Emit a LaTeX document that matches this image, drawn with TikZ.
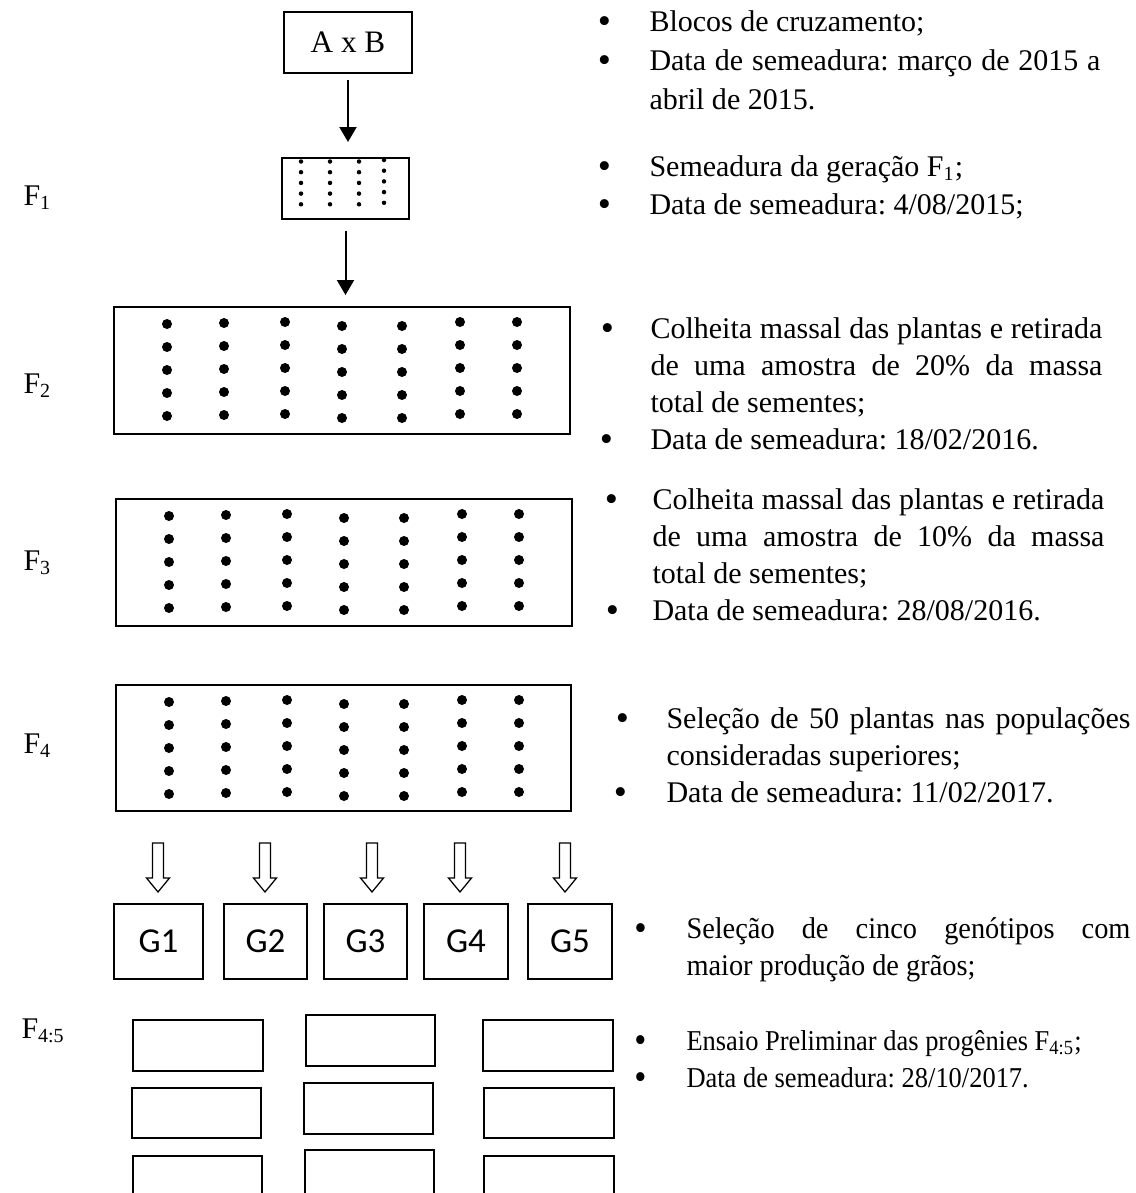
\documentclass[tikz,border=0pt]{standalone}
\usepackage{fontspec}
\setmainfont{Liberation Serif}
\newfontfamily\gfont{Carlito}
\newfontfamily\narrowA[FakeStretch=0.945]{Liberation Serif}
\newfontfamily\narrowB[FakeStretch=0.92]{Liberation Serif}
\usetikzlibrary{arrows.meta}

% bullet hung in the left margin of a paragraph, #1 = gap to the text
\newcommand{\bul}[1]{\leavevmode\llap{\hbox to 0pt{\hss\lower1pt\hbox{\fontsize{15}{15}\selectfont\textbullet}\hss}\hskip #1\relax}}
% paragraph settings for the notes: #1 = size, #2 = line distance
\newcommand{\notefont}[2]{\fontsize{#1}{#2}\selectfont\frenchspacing
  \hyphenpenalty=10000\exhyphenpenalty=10000\tolerance=10000\hbadness=10000}

\begin{document}
\begin{tikzpicture}[x=0.4pt,y=-0.4pt,
  sized/.style 2 args={minimum width=#1*0.4pt, minimum height=#2*0.4pt},
  box/.style={draw, line width=0.8pt, inner sep=0pt},
  gbox/.style={box, font=\gfont\fontsize{14}{16}\selectfont},
  plot/.style={draw, line width=0.8pt, inner sep=0pt},
  arr/.style={line width=0.8pt, -{Triangle[width=6.8pt,length=6pt]}},
  gen/.style={inner sep=0pt, anchor=base west, font=\fontsize{12}{14}\selectfont},
  txt/.style={inner sep=0pt, anchor=base west, align=justify, text width=#1*0.4pt},
  hollowarrow/.pic={\draw[line width=0.5pt, fill=white]
      (-5.5,0) -- (5.5,0) -- (5.5,35) -- (11.5,35) -- (0,49) -- (-11.5,35) -- (-5.5,35) -- cycle;}
]
\useasboundingbox (0,0) rectangle (1135,1193);
\clip (0,0) rectangle (1135,1193);

% ---- crossing and generations ----
\node[box, sized={128}{61}, font=\fontsize{12.5}{15}\selectfont] (ab) at (348,42.5) {A x B};
\node[box, sized={127}{61}] (f1box) at (345.5,188.5) {};
\node[box, sized={456}{127}] (f2box) at (342,370.5) {};
\node[box, sized={456}{127}] (f3box) at (344,562.5) {};
\node[box, sized={455}{126}] (f4box) at (343.5,748) {};

% plants in the F1 plot
\begin{scope}[shift={(f1box.north west)}]
  \foreach \dx/\dy in {20/4.5,49/4.5,78/4.5,103/3}
    \foreach \r in {0,...,4}
      \fill (\dx,{\dy+10.7*\r}) circle[radius=0.9pt];
\end{scope}

% plants in the F2, F3 and F4 plots
\foreach \plotname in {f2box,f3box,f4box}{
  \begin{scope}[shift={(\plotname.north west)}]
    \foreach \dx/\dy in {54/18,111/17,172/16,229/20,289/20,347/16,404/16}
      \foreach \r in {0,...,4}
        \fill (\dx,{\dy+23*\r}) circle[radius=2pt];
  \end{scope}
}

\draw[arr, shorten <=2.4pt, shorten >=6pt] (ab.south) -- (ab.south |- f1box.north);
\draw[arr, shorten <=4.4pt, shorten >=4.4pt] (f1box.south) -- (f1box.south |- f2box.north);

% ---- selected genotypes ----
\foreach \xa in {158,265,372,460,565}
  \pic at (\xa,843) {hollowarrow};

\node[gbox, sized={89}{75}] (g1) at (158.5,941.5) {G1};
\node[gbox, sized={83}{75}] (g2) at (265.5,941.5) {G2};
\node[gbox, sized={83}{75}] (g3) at (365.5,941.5) {G3};
\node[gbox, sized={84}{75}] (g4) at (466,941.5) {G4};
\node[gbox, sized={84}{75}] (g5) at (570,941.5) {G5};

% ---- F4:5 progeny plots ----
\node[plot, sized={130}{51}] (p11) at (198,1045.5) {};
\node[plot, sized={129}{50}] (p12) at (196.5,1113) {};
\node[plot, sized={129}{51}] (p13) at (197.5,1181.5) {};
\node[plot, sized={129}{51}] (p21) at (370.5,1040.5) {};
\node[plot, sized={129}{51}] (p22) at (368.5,1108.5) {};
\node[plot, sized={129}{51}] (p23) at (369.5,1175.5) {};
\node[plot, sized={130}{51}] (p31) at (548,1045.5) {};
\node[plot, sized={130}{50}] (p32) at (549,1113) {};
\node[plot, sized={130}{51}] (p33) at (549,1181.5) {};

% ---- generation labels ----
\node[gen] (lf1) at (23,205) {F\textsubscript{1}};
\node[gen] (lf2) at (23,393) {F\textsubscript{2}};
\node[gen] (lf3) at (23,570) {F\textsubscript{3}};
\node[gen] (lf4) at (23,753) {F\textsubscript{4}};
\node[gen] (lf45) at (21,1038) {F\textsubscript{4:5}};

% ---- notes ----
\node[txt=451, font=\notefont{12}{15.6pt}] (n1) at (649,31)
  {\bul{18pt}Blocos de cruzamento;\par
   \bul{18pt}Data de semeadura: março de 2015 a\linebreak abril de 2015.};
\node[txt=451, font=\notefont{12}{15.2pt}] (n2) at (649,176)
  {\bul{18pt}Semeadura da geração F\textsubscript{1};\par
   \bul{18pt}Data de semeadura: 4/08/2015;};
\node[txt=452, font=\notefont{12}{14.8pt}] (n3) at (650,338)
  {\bul{17.2pt}Colheita massal das plantas e retirada\linebreak de uma amostra de 20\% da massa\linebreak total de sementes;\par
   \bul{17.6pt}Data de semeadura: 18/02/2016.};
\node[txt=452, font=\notefont{12}{14.8pt}] (n4) at (652,509)
  {\bul{16.4pt}Colheita massal das plantas e retirada\linebreak de uma amostra de 10\% da massa\linebreak total de sementes;\par
   \bul{16pt}Data de semeadura: 28/08/2016.};
\node[txt=464, font=\notefont{12}{14.8pt}] (n5) at (666,728)
  {\bul{17.6pt}Seleção de 50 plantas nas populações\linebreak consideradas superiores;\par
   \bul{18.4pt}Data de semeadura: 11/02/2017.};
\node[txt=444, font=\narrowA\notefont{12}{14.8pt}] (n6) at (686,938)
  {\bul{18.4pt}Seleção de cinco genótipos com\linebreak maior produção de grãos;};
\node[txt=444, font=\narrowB\notefont{11.5}{14.8pt}] (n7) at (686,1050)
  {\bul{18.4pt}Ensaio Preliminar das progênies F\textsubscript{4:5};\par
   \bul{18.4pt}Data de semeadura: 28/10/2017.};
\end{tikzpicture}
\end{document}
